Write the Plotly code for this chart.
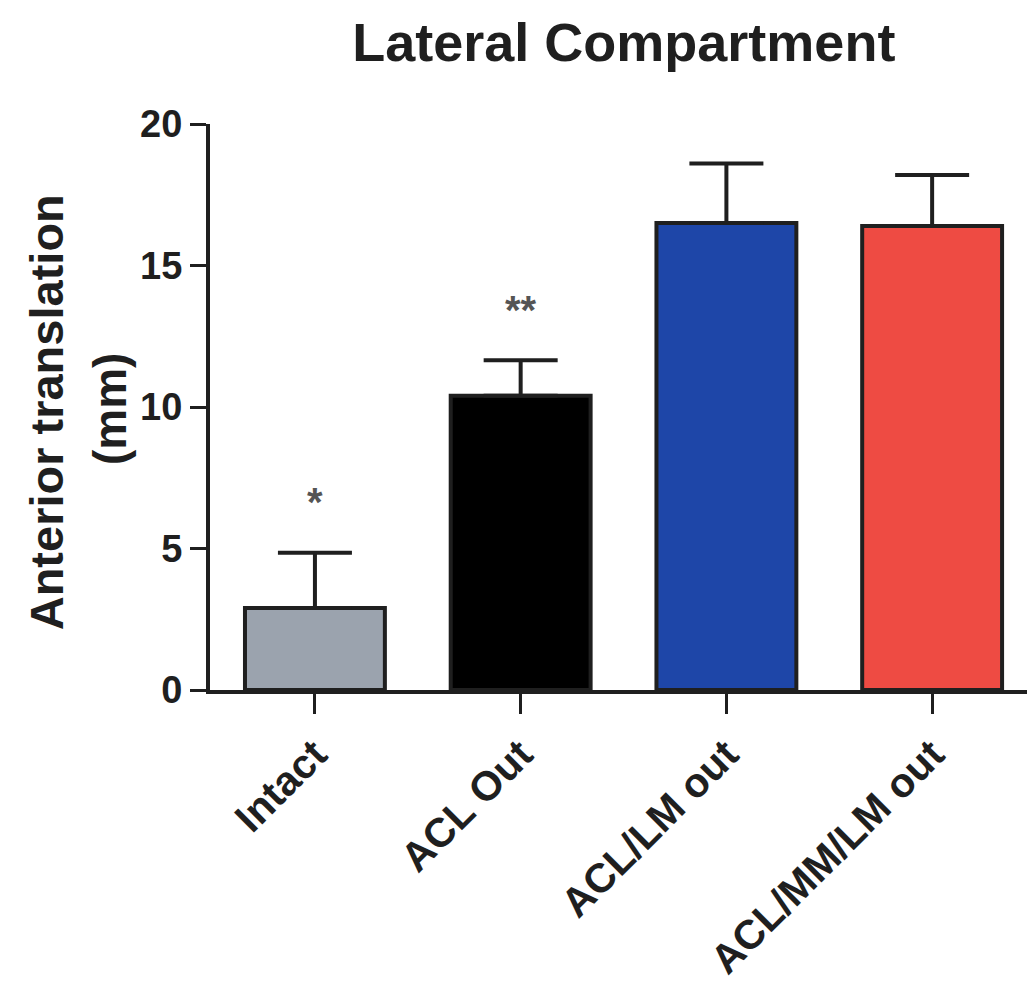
import plotly.graph_objects as go

# ---- data ----
categories = ["Intact", "ACL Out", "ACL/LM out", "ACL/MM/LM out"]
means = [2.9, 10.4, 16.5, 16.4]
sd_upper = [1.95, 1.25, 2.1, 1.8]
significance = ["*", "**", "", ""]
y_ticks = [0, 5, 10, 15, 20]

bar_colors = ["#9BA3AE", "#000000", "#1E46A8", "#EE4B43"]
INK = "#1f1f1f"
FONT = "Liberation Sans"

fig = go.Figure()
fig.add_trace(go.Bar(
    x=categories, y=means, width=0.68,
    marker=dict(color=bar_colors, line=dict(color=INK, width=4)),
    error_y=dict(type="data", symmetric=False, array=sd_upper,
                 arrayminus=[0] * len(means), thickness=4, width=37, color=INK),
    showlegend=False, hoverinfo="x+y",
))

for cat, m, e, s in zip(categories, means, sd_upper, significance):
    if s:
        fig.add_annotation(x=cat, y=m + e + 2.0, text=s, showarrow=False,
                           xref="x", yref="y", yanchor="middle", yshift=-6,
                           font=dict(family=FONT, size=40, color="#555555", weight="bold"))

# y-axis title (two lines, rotated)
fig.add_annotation(x=-0.198, y=0.49, xref="paper", yref="paper", text="Anterior translation",
                   textangle=-90, showarrow=False, xanchor="center", yanchor="middle",
                   font=dict(family=FONT, size=47, color=INK, weight="bold"))
fig.add_annotation(x=-0.122, y=0.497, xref="paper", yref="paper", text="(mm)",
                   textangle=-90, showarrow=False, xanchor="center", yanchor="middle",
                   font=dict(family=FONT, size=46, color=INK, weight="bold"))

fig.update_layout(
    width=1035, height=984,
    margin=dict(l=202, r=8, t=116, b=302, autoexpand=False),
    paper_bgcolor="white", plot_bgcolor="white",
    font=dict(family=FONT, color=INK, weight="bold"),
    title=dict(text="Lateral Compartment", x=0.595, xanchor="center", y=0.965, yanchor="middle",
               font=dict(family=FONT, size=54, color=INK, weight="bold")),
    bargap=0.32,
)
fig.update_xaxes(
    range=[-0.51, 3.5], showline=True, linewidth=4, linecolor=INK,
    ticks="outside", ticklen=20, tickwidth=3, tickcolor=INK,
    tickangle=-45, tickfont=dict(family=FONT, size=41, color=INK, weight="bold"),
    showgrid=False, zeroline=False,
)
fig.update_yaxes(
    range=[0, 20], tickvals=y_ticks, showline=True, linewidth=4, linecolor=INK,
    ticks="outside", ticklen=16, tickwidth=3, tickcolor=INK,
    tickfont=dict(family=FONT, size=38, color=INK, weight="bold"),
    showgrid=False, zeroline=False,
)

fig.write_html("out.html")
